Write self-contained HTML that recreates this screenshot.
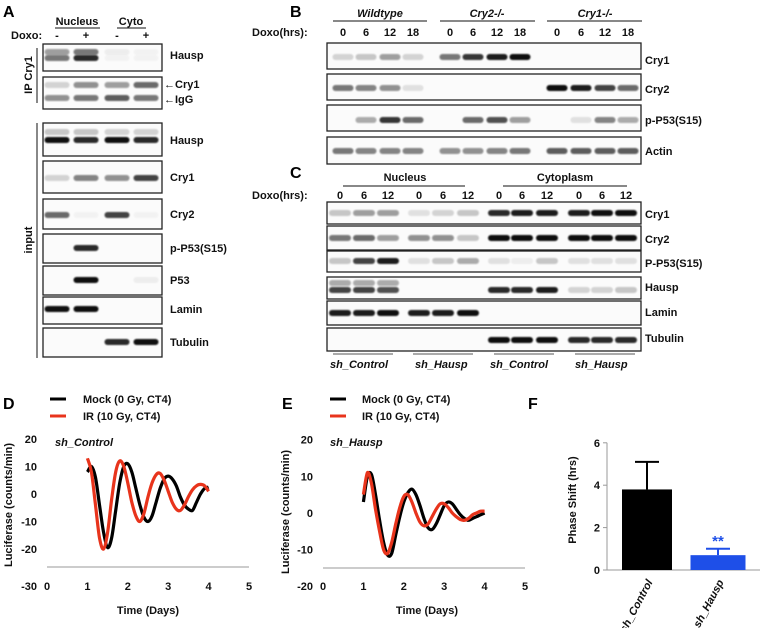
<!DOCTYPE html>
<html><head><meta charset="utf-8">
<style>
html,body{margin:0;padding:0;background:#fff;}
svg{display:block;font-family:"Liberation Sans",Arial,sans-serif;}
.lb{font-size:11px;font-weight:bold;fill:#111;}
.pl{font-size:16px;font-weight:bold;fill:#000;}
.tk{font-size:11px;font-weight:bold;fill:#111;}
.it{font-style:italic;}
</style></head>
<body>
<svg id="fig" width="784" height="628" viewBox="0 0 784 628">
<defs><filter id="bl" x="-30%" y="-100%" width="160%" height="300%"><feGaussianBlur stdDeviation="0.9"/></filter></defs>
<g id="blots"></g>
<g id="charts"></g>

<text class="pl" x="3" y="17">A</text>
<text class="lb" x="77" y="25" text-anchor="middle">Nucleus</text>
<line x1="55" y1="28" x2="100" y2="28" stroke="#111" stroke-width="1"/>
<text class="lb" x="131" y="25" text-anchor="middle">Cyto</text>
<line x1="117" y1="28" x2="146" y2="28" stroke="#111" stroke-width="1"/>
<text class="lb" x="11" y="39">Doxo:</text>
<text class="lb" x="57" y="39" text-anchor="middle">-</text>
<text class="lb" x="86" y="39" text-anchor="middle">+</text>
<text class="lb" x="117" y="39" text-anchor="middle">-</text>
<text class="lb" x="146" y="39" text-anchor="middle">+</text>
<line x1="37" y1="48" x2="37" y2="103" stroke="#111"/>
<text class="lb" transform="translate(32,75) rotate(-90)" text-anchor="middle">IP Cry1</text>
<line x1="37" y1="123" x2="37" y2="358" stroke="#111"/>
<text class="lb" transform="translate(32,240) rotate(-90)" text-anchor="middle">input</text>

<text class="pl" x="290" y="17">B</text>
<text class="lb it" x="380" y="17" text-anchor="middle">Wildtype</text>
<line x1="333" y1="21" x2="427" y2="21" stroke="#111"/>
<text class="lb it" x="487" y="17" text-anchor="middle">Cry2-/-</text>
<line x1="440" y1="21" x2="535" y2="21" stroke="#111"/>
<text class="lb it" x="595" y="17" text-anchor="middle">Cry1-/-</text>
<line x1="547" y1="21" x2="642" y2="21" stroke="#111"/>
<text class="lb" x="252" y="36">Doxo(hrs):</text>

<text class="pl" x="290" y="178">C</text>
<text class="lb" x="405" y="181" text-anchor="middle">Nucleus</text>
<line x1="343" y1="186" x2="465" y2="186" stroke="#111"/>
<text class="lb" x="565" y="181" text-anchor="middle">Cytoplasm</text>
<line x1="503" y1="186" x2="627" y2="186" stroke="#111"/>
<text class="lb" x="252" y="199">Doxo(hrs):</text>
<line x1="333" y1="354" x2="393" y2="354" stroke="#555"/>
<line x1="413" y1="354" x2="473" y2="354" stroke="#555"/>
<line x1="494" y1="354" x2="554" y2="354" stroke="#555"/>
<line x1="575" y1="354" x2="635" y2="354" stroke="#555"/>
<text class="lb it" x="330" y="368">sh_Control</text>
<text class="lb it" x="415" y="368">sh_Hausp</text>
<text class="lb it" x="490" y="368">sh_Control</text>
<text class="lb it" x="575" y="368">sh_Hausp</text>

<text class="pl" x="3" y="409">D</text>
<line x1="50" y1="399" x2="66" y2="399" stroke="#000" stroke-width="3"/>
<text class="tk" x="83" y="403">Mock (0 Gy, CT4)</text>
<line x1="50" y1="416" x2="66" y2="416" stroke="#e8341c" stroke-width="3"/>
<text class="tk" x="83" y="420">IR (10 Gy, CT4)</text>
<text class="tk it" x="55" y="446">sh_Control</text>
<text class="tk" transform="translate(12,505) rotate(-90)" text-anchor="middle">Luciferase (counts/min)</text>
<text class="tk" x="148" y="614" text-anchor="middle">Time (Days)</text>

<text class="pl" x="282" y="409">E</text>
<line x1="330" y1="399" x2="346" y2="399" stroke="#000" stroke-width="3"/>
<text class="tk" x="362" y="403">Mock (0 Gy, CT4)</text>
<line x1="330" y1="416" x2="346" y2="416" stroke="#e8341c" stroke-width="3"/>
<text class="tk" x="362" y="420">IR (10 Gy, CT4)</text>
<text class="tk it" x="330" y="446">sh_Hausp</text>
<text class="tk" transform="translate(289,512) rotate(-90)" text-anchor="middle">Luciferase (counts/min)</text>
<text class="tk" x="427" y="614" text-anchor="middle">Time (Days)</text>

<text class="pl" x="528" y="409">F</text>
<text class="tk" transform="translate(576,500) rotate(-90)" text-anchor="middle">Phase Shift (hrs)</text>
</svg>
<script>
const aLanes = [57, 86, 117, 146];
const bLanes = [343, 366, 390, 413, 450, 473, 497, 520, 557, 581, 605, 628];
const cLanes = [340, 364, 388, 419, 443, 468, 499, 522, 547, 579, 602, 626];
const bNums = ['0','6','12','18','0','6','12','18','0','6','12','18'];
const cNums = ['0','6','12','0','6','12','0','6','12','0','6','12'];

const aBlots = [
 {name:'Hausp', top:44, bot:71, ly:59, rows:[[52,[0.35,0.5,0.05,0.03]],[58,[0.5,0.8,0.03,0.03]]]},
 {name:'Cry1/IgG', top:77, bot:109, ly:null, rows:[[85,[0.15,0.4,0.35,0.55]],[98,[0.4,0.5,0.6,0.5]]]},
 {name:'Hausp', top:123, bot:156, ly:144, rows:[[132,[0.2,0.2,0.15,0.15]],[140,[0.9,0.8,0.9,0.8]]]},
 {name:'Cry1', top:161, bot:193, ly:181, rows:[[178,[0.15,0.45,0.4,0.7]]]},
 {name:'Cry2', top:199, bot:229, ly:218, rows:[[215,[0.55,0.03,0.7,0.03]]]},
 {name:'p-P53(S15)', top:234, bot:263, ly:252, rows:[[248,[0,0.8,0,0]]]},
 {name:'P53', top:266, bot:295, ly:284, rows:[[280,[0,1,0,0.05]]]},
 {name:'Lamin', top:297, bot:324, ly:313, rows:[[309,[0.9,0.95,0,0]]]},
 {name:'Tubulin', top:328, bot:357, ly:346, rows:[[342,[0,0,0.8,0.9]]]}
];
const bBlots = [
 {name:'Cry1', top:43, bot:69, ly:64, rows:[[57,[.15,.2,.35,.15,.5,.75,.85,.95,0,0,0,0]]]},
 {name:'Cry2', top:74, bot:100, ly:93, rows:[[88,[.5,.45,.4,.1,0,0,0,0,1,.85,.7,.55]]]},
 {name:'p-P53(S15)', top:105, bot:131, ly:124, rows:[[120,[0,.3,.75,.55,0,.55,.65,.35,0,.1,.45,.3]]]},
 {name:'Actin', top:137, bot:164, ly:155, rows:[[151,[.5,.45,.45,.45,.4,.4,.45,.5,.6,.6,.6,.6]]]}
];
const cBlots = [
 {name:'Cry1', top:202, bot:224, ly:218, rows:[[213,[.2,.35,.35,.1,.15,.2,.8,.85,.85,.85,.9,.95]]]},
 {name:'Cry2', top:226, bot:250, ly:243, rows:[[238,[.5,.55,.35,.4,.4,.2,1,1,.95,1,1,1]]]},
 {name:'P-P53(S15)', top:251, bot:272, ly:267, rows:[[261,[.2,.7,.85,.1,.2,.3,.1,.05,.2,.1,.1,.1]]]},
 {name:'Hausp', top:277, bot:299, ly:291, rows:[[283,[.3,.3,.3,0,0,0,0,0,0,0,0,0]],[290,[.7,.7,.65,0,0,0,.8,.8,.85,.15,.15,.2]]]},
 {name:'Lamin', top:301, bot:325, ly:316, rows:[[313,[.85,.85,.9,.85,.85,.9,0,0,0,0,0,0]]]},
 {name:'Tubulin', top:328, bot:351, ly:342, rows:[[340,[0,0,0,0,0,0,.95,.95,.95,.8,.8,.8]]]}
];

const NS = 'http://www.w3.org/2000/svg';
function mk(tag, parent){ const e = document.createElementNS(NS, tag); parent.appendChild(e); return e; }
const blotG = document.getElementById('blots');

function drawBlots(list, lanes, x0, x1, bw, lx){
  list.forEach(b => {
    const box = mk('rect', blotG);
    
    
    box.setAttribute('x', x0); box.setAttribute('y', b.top);
    box.setAttribute('width', x1 - x0); box.setAttribute('height', b.bot - b.top);
    box.setAttribute('fill', '#fbfbfb'); box.setAttribute('stroke', '#222'); box.setAttribute('stroke-width', '1.3');
    b.rows.forEach(r => {
      r[1].forEach((v, i) => {
        if (v <= 0) return;
        const band = mk('rect', blotG);
        
        
        band.setAttribute('x', lanes[i] - bw/2); band.setAttribute('y', r[0] - 3);
        band.setAttribute('width', bw); band.setAttribute('height', 6); band.setAttribute('rx', 3);
        band.setAttribute('fill', '#111'); band.setAttribute('opacity', Math.min(1, v * 1.1));
        band.setAttribute('filter', 'url(#bl)');
      });
    });
    if (b.ly !== null) {
      const t = mk('text', blotG);
      
      
      t.setAttribute('class', 'lb'); t.setAttribute('x', lx); t.setAttribute('y', b.ly);
      t.textContent = b.name;
    }
  });
}
drawBlots(aBlots, aLanes, 43, 162, 25, 170);
drawBlots(bBlots, bLanes, 327, 641, 21, 645);
drawBlots(cBlots, cLanes, 327, 641, 22, 645);
[['Cry1', 88], ['IgG', 103]].forEach(p => {
  const t = mk('text', blotG);
  
  
  t.setAttribute('class', 'lb'); t.setAttribute('x', 164); t.setAttribute('y', p[1]);
  t.textContent = '\u2190' + p[0];
});
function nums(arr, lanes, y){
  arr.forEach((n, i) => {
    const t = mk('text', blotG);
    
    
    t.setAttribute('class', 'lb'); t.setAttribute('x', lanes[i]); t.setAttribute('y', y);
    t.setAttribute('text-anchor', 'middle'); t.textContent = n;
  });
}
nums(bNums, bLanes, 36);
nums(cNums, cLanes, 199);

const days = [1.0,1.1,1.2,1.3,1.4,1.5,1.6,1.7,1.8,1.9,2.0,2.1,2.2,2.3,2.4,2.5,2.6,2.7,2.8,2.9,3.0,3.1,3.2,3.3,3.4,3.5,3.6,3.7,3.8,3.9,4.0];
const dMock = [8,10,6,-4,-14,-19.5,-16,-6,4,10,11,8,2,-4,-8.5,-10,-8,-3,2,5.5,6.5,5.5,3,-1,-4,-5.5,-6,-3,0,2,2.5];
const dIR = [13,8,-4,-16,-20,-14,-2,8,12,10,4,-3,-8,-10,-7,-1,4,7,7.5,5,1,-3,-5.5,-6,-4,-1,1.5,3,3.5,3,1];
const eMock = [3,10,10.5,5,-2,-8,-11.5,-11,-6,-1,3,5.5,6.5,5,2,-1.5,-4,-4.5,-3,-0.5,2,3,2.5,1,-0.5,-1.5,-2,-1.5,-1,-0.5,0];
const eIR = [5,11,8,1,-5,-10,-11,-8,-3,1.5,4.5,5,3,0,-2.5,-3.5,-3,-1,1,2.5,2.5,1.5,0,-1,-1.8,-2,-1.5,-0.5,0,0.5,0.5];
const xTicks = [0,1,2,3,4,5];
const dYTicks = [20,10,0,-10,-20,-30];
const eYTicks = [20,10,0,-10,-20];
const fCats = ['sh_Control','sh_Hausp'];
const fMeans = [3.8, 0.7];
const fErrs = [1.3, 0.3];
const fYTicks = [0,2,4,6];

const ch = document.getElementById('charts');
function xD(t){ return 47 + t*40.4; }
function yD(v){ return 494 - v*2.75; }
function xE(t){ return 323 + t*40.4; }
function yE(v){ return 513 - v*3.67; }
function yF(v){ return 570 - v*21.2; }

function axisText(x, y, s, anchor, nm){
  const t = mk('text', ch);
  
  
  t.setAttribute('class', 'tk'); t.setAttribute('x', x); t.setAttribute('y', y);
  t.setAttribute('text-anchor', anchor); t.textContent = s;
}
function line(x1,y1,x2,y2,nm){
  const l = mk('line', ch);
  
  
  l.setAttribute('x1',x1); l.setAttribute('y1',y1); l.setAttribute('x2',x2); l.setAttribute('y2',y2);
  l.setAttribute('stroke','#999'); l.setAttribute('stroke-width','1');
}
function series(xs, ys, fx, fy, color, nm){
  const P = xs.map((t,i)=>[fx(t), fy(ys[i])]);
  let d = 'M' + P[0][0].toFixed(1) + ',' + P[0][1].toFixed(1);
  for (let i = 0; i < P.length - 1; i++) {
    const p0 = P[Math.max(0,i-1)], p1 = P[i], p2 = P[i+1], p3 = P[Math.min(P.length-1,i+2)];
    const c1x = p1[0] + (p2[0]-p0[0])/6, c1y = p1[1] + (p2[1]-p0[1])/6;
    const c2x = p2[0] - (p3[0]-p1[0])/6, c2y = p2[1] - (p3[1]-p1[1])/6;
    d += ' C' + c1x.toFixed(1)+','+c1y.toFixed(1)+' '+c2x.toFixed(1)+','+c2y.toFixed(1)+' '+p2[0].toFixed(1)+','+p2[1].toFixed(1);
  }
  const p = mk('path', ch);
  
  
  p.setAttribute('d', d);
  p.setAttribute('fill','none'); p.setAttribute('stroke',color); p.setAttribute('stroke-width','3.2');
  p.setAttribute('stroke-linejoin','round');
}
line(xD(0), 567, xD(5), 567, 'x-axis-d');
xTicks.forEach(t => axisText(xD(t), 590, String(t), 'middle', 'x-tick-d'));
dYTicks.forEach(v => axisText(37, v === -30 ? 590 : yD(v)+4, String(v), 'end', 'y-tick-d'));
series(days, dMock, xD, yD, '#000', 'mock-line-d');
series(days, dIR, xD, yD, '#e8341c', 'ir-line-d');

line(xE(0), 568, xE(5), 568, 'x-axis-e');
xTicks.forEach(t => axisText(xE(t), 590, String(t), 'middle', 'x-tick-e'));
eYTicks.forEach(v => axisText(313, v === -20 ? 590 : yE(v)+4, String(v), 'end', 'y-tick-e'));
series(days, eMock, xE, yE, '#000', 'mock-line-e');
series(days, eIR, xE, yE, '#e8341c', 'ir-line-e');

const fX = [647, 718];
const fW = [50, 55];
const fCol = ['#000', '#1e4fe8'];
line(607, yF(6), 607, yF(0), 'y-axis-f');
line(607, yF(0), 760, yF(0), 'x-axis-f');
fYTicks.forEach(v => { axisText(600, yF(v)+4, String(v), 'end', 'y-tick-f'); line(603, yF(v), 607, yF(v), 'y-tickmark-f'); });
fMeans.forEach((m, i) => {
  const e = mk('line', ch);
  
  
  e.setAttribute('x1', fX[i]); e.setAttribute('x2', fX[i]);
  e.setAttribute('y1', yF(m)); e.setAttribute('y2', yF(m + fErrs[i]));
  e.setAttribute('stroke', fCol[i]); e.setAttribute('stroke-width', '2');
  const c = mk('line', ch);
  
  
  c.setAttribute('x1', fX[i]-12); c.setAttribute('x2', fX[i]+12);
  c.setAttribute('y1', yF(m + fErrs[i])); c.setAttribute('y2', yF(m + fErrs[i]));
  c.setAttribute('stroke', fCol[i]); c.setAttribute('stroke-width', '2');
  const r = mk('rect', ch);
  
  
  r.setAttribute('x', fX[i] - fW[i]/2); r.setAttribute('y', yF(m));
  r.setAttribute('width', fW[i]); r.setAttribute('height', yF(0) - yF(m));
  r.setAttribute('fill', fCol[i]);
  const t = mk('text', ch);
  
  
  t.setAttribute('class', 'tk it'); t.setAttribute('text-anchor', 'end');
  t.setAttribute('transform', 'translate(' + (fX[i]+6) + ',' + 582 + ') rotate(-62)');
  t.textContent = fCats[i];
});
const star = mk('text', ch);


star.setAttribute('x', fX[1]); star.setAttribute('y', yF(fMeans[1] + fErrs[1]) - 3);
star.setAttribute('text-anchor', 'middle'); star.setAttribute('fill', '#1e4fe8');
star.setAttribute('font-size', '15'); star.setAttribute('font-weight', 'bold');
star.textContent = '**';
</script>
</body></html>
